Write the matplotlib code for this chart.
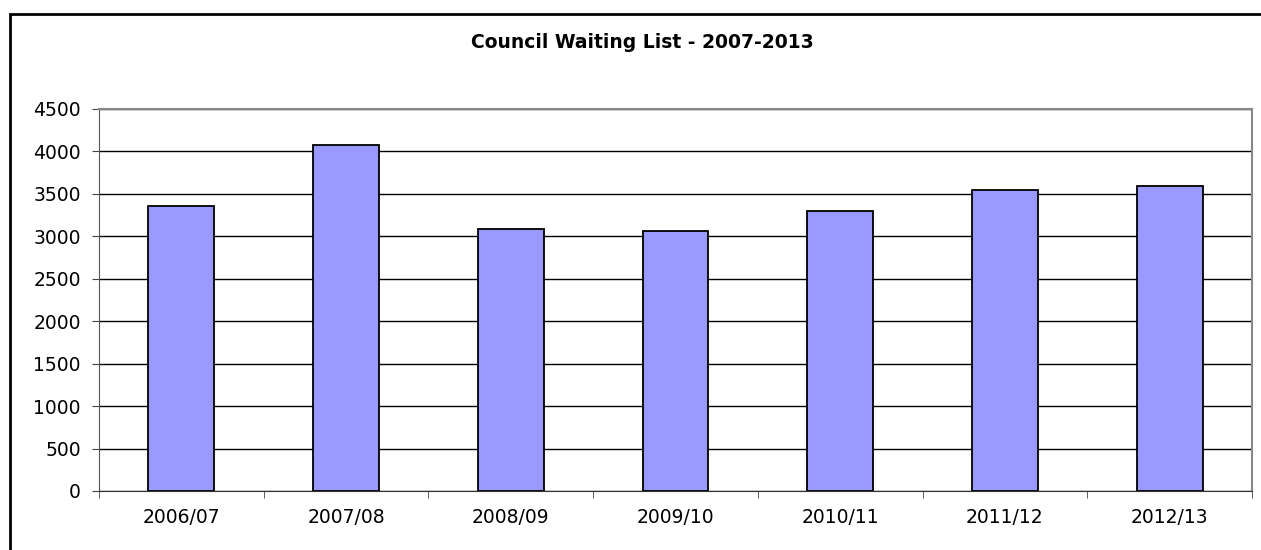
import matplotlib.pyplot as plt
import numpy as np
from matplotlib.patches import Rectangle

plt.rcParams['font.family'] = ['DejaVu Sans']

years = ['2006/07', '2007/08', '2008/09', '2009/10', '2010/11', '2011/12', '2012/13']
waiting = [3360, 4080, 3085, 3063, 3295, 3546, 3595]
y_ticks = [0, 500, 1000, 1500, 2000, 2500, 3000, 3500, 4000, 4500]

W, H = 1261, 550
fig = plt.figure(figsize=(W / 100, H / 100), dpi=100)

# outer chart frame (runs off the right/bottom of the image)
fig.patches.append(Rectangle((10 / W, -0.1), 1.2, (H - 14) / H + 0.1,
                             transform=fig.transFigure, fill=False,
                             edgecolor='black', linewidth=2))

ax = fig.add_axes([99 / W, (H - 491) / H, 1153 / W, 382 / H])
x = np.arange(len(years))
ax.bar(x, waiting, width=0.40, color='#9999FF', edgecolor='black',
       linewidth=1.3, zorder=3)

ax.set_xlim(-0.5, len(years) - 0.5)
ax.set_ylim(0, 4500)
ax.set_yticks(y_ticks)
ax.set_yticklabels([str(v) for v in y_ticks], fontsize=13.5)
ax.yaxis.grid(True, color='black', linewidth=1, zorder=0)
ax.set_xticks(x)
ax.set_xticklabels(years, fontsize=13.5)
ax.set_xticks(np.arange(-0.5, len(years)), minor=True)
ax.tick_params(axis='x', which='major', length=0, pad=12)
ax.tick_params(axis='x', which='minor', length=5, direction='out', color='#444444')
ax.tick_params(axis='y', length=5, direction='out', color='#444444', pad=8)

for side in ['top', 'right']:
    ax.spines[side].set_color('#888888')
    ax.spines[side].set_linewidth(1.5)
ax.spines['left'].set_color('#555555')
ax.spines['bottom'].set_color('#333333')

fig.text(642 / W, (H - 42) / H, 'Council Waiting List - 2007-2013',
         ha='center', va='center', fontsize=13.5, fontweight='bold')

fig.savefig('out.png', dpi=100)
